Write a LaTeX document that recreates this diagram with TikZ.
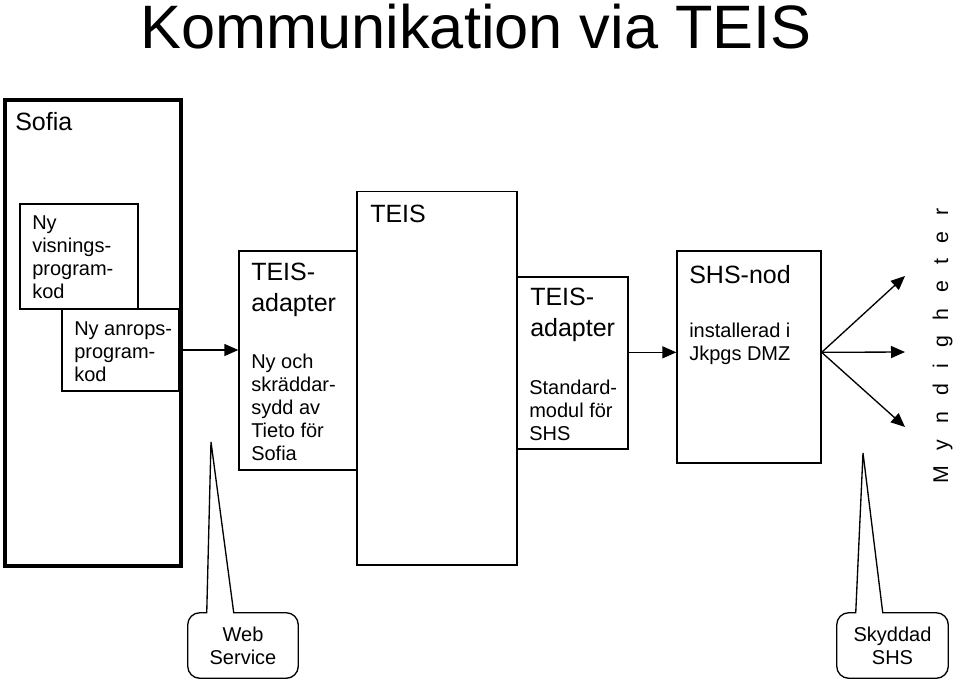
\documentclass[tikz,border=0pt]{standalone}
\usepackage{fontspec}
\setmainfont{Liberation Sans}
\usetikzlibrary{arrows.meta}
\usetikzlibrary{fit}
\usetikzlibrary{calc}

\newcommand\txtsmall{\fontsize{15}{17.25}\selectfont}
\newcommand\txtbig{\fontsize{18.75}{23}\selectfont}

\tikzset{
  box/.style={draw, line width=1pt, inner sep=0pt},
  lbl/.style={anchor=north west, align=left, inner sep=0pt, font=\txtsmall},
  head/.style={lbl, font=\txtbig},
  arr/.style={line width=1pt, -{Triangle[length=10.5pt,width=9pt]}},
  bubble/.style={line width=1pt}
}

\begin{document}
\begin{tikzpicture}[x=0.75pt, y=-0.75pt]
\useasboundingbox (0,0) rectangle (960,682);

% Title
\node[font=\fontsize{46}{55}\selectfont, anchor=base] (title) at (476,48) {Kommunikation via TEIS};

% Sofia
\node[box, line width=3pt, fit={(5,99.5) (180.5,566)}] (sofia) {};
\node[head] (sofiaT) at (15,112) {Sofia};
\node[box, fit={(20,204) (138,309)}] (visn) {};
\node[lbl] (visnT) at (32,215) {Ny\\visnings-\\program-\\kod};
\node[box, fit={(62,309) (179,391)}] (anrop) {};
\node[lbl] (anropT) at (74,321) {Ny anrops-\\program-\\kod};

% TEIS-adapter for Sofia
\node[box, fit={(239,251) (357,470)}] (adapt1) {};
\node[head] (adapt1T) at (251,263) {TEIS-\\adapter};
\node[lbl] (adapt1S) at (251,354) {Ny och\\skräddar-\\sydd av\\Tieto för\\Sofia};

% TEIS
\node[box, fit={(357,191.5) (517,565)}] (teis) {};
\node[head] (teisT) at (370,205) {TEIS};

% TEIS-adapter for SHS
\node[box, fit={(517,277) (628,449)}] (adapt2) {};
\node[head] (adapt2T) at (530,288) {TEIS-\\adapter};
\node[lbl] (adapt2S) at (529,380) {Standard-\\modul för\\SHS};

% SHS-nod
\node[box, fit={(677,251) (821,463)}] (shs) {};
\node[head] (shsT) at (689,265) {SHS-nod};
\node[lbl] (shsS) at (689,323) {installerad i\\Jkpgs DMZ};

% Myndigheter
\node[rotate=90, anchor=base, inner sep=0pt,
      font=\fontsize{16}{19}\selectfont\addfontfeature{LetterSpace=74}] (mynd) at (948,346) {Myndigheter};
\coordinate (m1) at (905,276);
\coordinate (m2) at (905,352);
\coordinate (m3) at (905,427);

% Connections
\draw[arr] (anrop.east -| sofia.east) -- (anrop.east -| adapt1.west);
\draw[arr] ([yshift=3.5pt]shs.west -| adapt2.east) -- ([yshift=3.5pt]shs.west);
\foreach \i in {1,...,3} {
    \draw[arr] ([yshift=3.5pt]shs.east) -- (m\i);
}

% Callouts
\node[font=\txtsmall, align=center, inner sep=0pt, minimum width=82.5pt, minimum height=48.75pt] (ws) at (243,645.5) {Web\\Service};
\coordinate (wsTip) at (211,442);
\draw[bubble] (wsTip) -- ($(ws.north west)+(46,0)$) [rounded corners=9pt] -- (ws.north east) -- (ws.south east)
    -- (ws.south west) -- (ws.north west) [sharp corners] -- ($(ws.north west)+(19,0)$) -- cycle;

\node[font=\txtsmall, align=center, inner sep=0pt, minimum width=83.25pt, minimum height=48.75pt] (sk) at (892.5,645.5) {Skyddad\\SHS};
\coordinate (skTip) at (863,453);
\draw[bubble] (skTip) -- ($(sk.north west)+(46,0)$) [rounded corners=9pt] -- (sk.north east) -- (sk.south east)
    -- (sk.south west) -- (sk.north west) [sharp corners] -- ($(sk.north west)+(19,0)$) -- cycle;

\end{tikzpicture}
\end{document}
